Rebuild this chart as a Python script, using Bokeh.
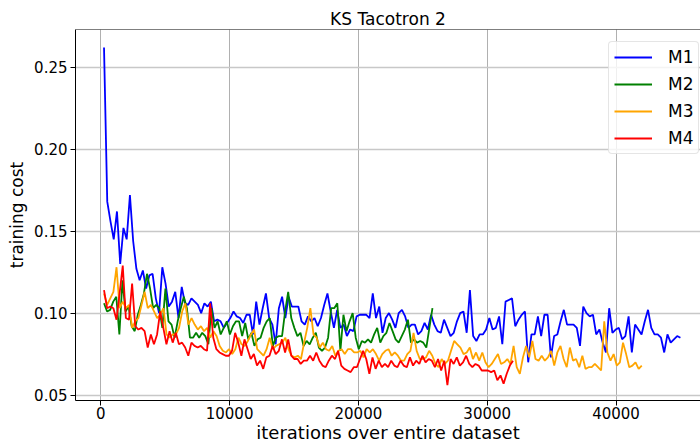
import numpy as np
from bokeh.plotting import figure
from bokeh.models import (Span, Legend, LegendItem, FixedTicker,
                          PrintfTickFormatter, Range1d)
from bokeh.embed import file_html
from bokeh.resources import INLINE

# ---------------- data ----------------
title = "KS Tacotron 2"
x_label = "iterations over entire dataset"
y_label = "training cost"
series_names = ["M1", "M2", "M3", "M4"]
series_colors = ["#0000ff", "#008000", "#ffa500", "#ff0000"]

x_ticks = [0, 10000, 20000, 30000, 40000]
y_ticks = [0.05, 0.10, 0.15, 0.20, 0.25]

# first / last iteration of each run
m1_start, m1_end = 250, 45000
m2_start, m2_end = 250, 25750
m3_start, m3_end = 250, 42000
m4_start, m4_end = 250, 32000

m1_cost = [
    0.262, 0.168, 0.156, 0.145, 0.162, 0.130, 0.152, 0.145, 0.172, 0.144,
    0.127, 0.120, 0.126, 0.115, 0.123, 0.124,
    0.109, 0.100, 0.128, 0.118, 0.104, 0.107, 0.113, 0.097, 0.116, 0.106,
    0.105, 0.109, 0.107, 0.105, 0.100, 0.106, 0.104, 0.107, 0.095, 0.096,
    0.095, 0.091, 0.094, 0.097, 0.101, 0.098, 0.097, 0.094, 0.099, 0.099,
    0.087, 0.107, 0.093, 0.103, 0.112, 0.097, 0.093, 0.081, 0.103, 0.110,
    0.097, 0.110, 0.104, 0.104, 0.104, 0.095, 0.093, 0.098, 0.095, 0.097,
    0.092, 0.097, 0.105, 0.112, 0.101, 0.091, 0.102, 0.091, 0.093, 0.086,
    0.090, 0.089, 0.098, 0.099, 0.099, 0.099, 0.097, 0.112, 0.097, 0.104,
    0.088, 0.097, 0.100, 0.096, 0.091, 0.100, 0.102, 0.098, 0.091, 0.093,
    0.093, 0.087, 0.089, 0.094, 0.090, 0.099, 0.093, 0.089, 0.088, 0.096,
    0.091, 0.086, 0.088, 0.095, 0.100, 0.101, 0.088, 0.114, 0.086, 0.083,
    0.087, 0.087, 0.090, 0.097, 0.090, 0.091, 0.098, 0.081, 0.107, 0.108,
    0.109, 0.092, 0.096, 0.099, 0.101, 0.070, 0.087, 0.087, 0.098, 0.086,
    0.099, 0.099, 0.073, 0.086, 0.087, 0.095, 0.102, 0.093, 0.093, 0.093,
    0.091, 0.080, 0.104, 0.100, 0.098, 0.099, 0.087, 0.090, 0.082, 0.076,
    0.103, 0.088, 0.090, 0.091, 0.084, 0.086, 0.098, 0.076, 0.093, 0.090,
    0.087, 0.095, 0.102, 0.091, 0.087, 0.087, 0.085, 0.076, 0.087, 0.082,
    0.084, 0.086, 0.085,
]

m2_cost = [
    0.106, 0.101, 0.102, 0.107, 0.110, 0.087, 0.120, 0.101, 0.104, 0.092,
    0.089, 0.099, 0.105, 0.112, 0.124, 0.115, 0.103, 0.105, 0.103, 0.091,
    0.115, 0.095, 0.093,
    0.085, 0.095, 0.103, 0.110, 0.103, 0.085, 0.085, 0.088, 0.085, 0.088,
    0.086, 0.081, 0.103, 0.091, 0.095, 0.087, 0.091, 0.095, 0.087, 0.092,
    0.095, 0.095, 0.086, 0.094, 0.084,
    0.088, 0.080, 0.084, 0.085, 0.091, 0.095, 0.097, 0.080, 0.085, 0.086,
    0.086, 0.101, 0.113, 0.097, 0.091, 0.086, 0.088, 0.080, 0.083, 0.081,
    0.085, 0.088, 0.079, 0.077,
    0.079, 0.085, 0.103, 0.103, 0.106, 0.077, 0.099, 0.089, 0.095, 0.100,
    0.085, 0.078, 0.083, 0.082, 0.084, 0.082, 0.087, 0.091, 0.082, 0.086,
    0.088, 0.094, 0.089, 0.084,
    0.082, 0.086, 0.090, 0.096, 0.082, 0.084, 0.082, 0.083, 0.082, 0.079,
    0.091, 0.103,
]

m3_cost = [
    0.112, 0.105, 0.109, 0.113, 0.128, 0.103, 0.107, 0.103, 0.105, 0.091,
    0.095, 0.097, 0.105, 0.113, 0.103, 0.105, 0.101, 0.097, 0.099, 0.103,
    0.087, 0.085, 0.087,
    0.087, 0.091, 0.101, 0.106, 0.093, 0.097, 0.093, 0.090, 0.092, 0.089,
    0.091, 0.085, 0.089, 0.086, 0.080, 0.077, 0.076, 0.078, 0.075, 0.078,
    0.085, 0.081, 0.080, 0.083, 0.087,
    0.090, 0.078, 0.076, 0.074, 0.078, 0.085, 0.078, 0.080, 0.081, 0.082,
    0.085, 0.078, 0.074, 0.073, 0.074, 0.072, 0.082, 0.091, 0.103, 0.087,
    0.085, 0.079, 0.082, 0.078,
    0.077, 0.080, 0.074, 0.077, 0.078, 0.075, 0.078, 0.078, 0.076, 0.076,
    0.077, 0.073, 0.078, 0.076, 0.078, 0.075, 0.071, 0.075, 0.077, 0.078,
    0.074, 0.076, 0.074, 0.071,
    0.071, 0.075, 0.077, 0.088, 0.077, 0.072, 0.072, 0.073, 0.077, 0.074,
    0.069, 0.067, 0.072, 0.069, 0.071, 0.077, 0.083, 0.081, 0.079, 0.075,
    0.076, 0.079, 0.072,
    0.076, 0.071, 0.076, 0.070, 0.067, 0.069, 0.072, 0.075, 0.069, 0.070,
    0.072, 0.069, 0.080, 0.067, 0.063, 0.073, 0.080, 0.073, 0.083, 0.072,
    0.071, 0.074, 0.071, 0.073, 0.077,
    0.068, 0.076, 0.080, 0.072, 0.067, 0.079, 0.071, 0.072, 0.067, 0.074,
    0.066, 0.067, 0.067, 0.069, 0.067, 0.065, 0.095, 0.076, 0.071, 0.075,
    0.068, 0.070, 0.082,
    0.075, 0.067, 0.068, 0.070, 0.066, 0.068,
]

m4_cost = [
    0.114, 0.103, 0.104, 0.103, 0.096, 0.112, 0.129, 0.097, 0.096, 0.118,
    0.092, 0.090, 0.091, 0.089, 0.079, 0.087, 0.081, 0.087, 0.101, 0.091,
    0.081, 0.089, 0.082,
    0.088, 0.081, 0.082, 0.079, 0.074, 0.082, 0.080, 0.079, 0.080, 0.078,
    0.077, 0.106, 0.085, 0.078, 0.076, 0.075, 0.074, 0.074, 0.077, 0.088,
    0.082, 0.074, 0.084, 0.078,
    0.072, 0.075, 0.068, 0.071, 0.066, 0.073, 0.074, 0.080, 0.075, 0.077,
    0.084, 0.076, 0.084, 0.074, 0.072, 0.072, 0.069, 0.071, 0.071, 0.074,
    0.071, 0.076, 0.071, 0.068,
    0.067, 0.071, 0.074, 0.072, 0.077, 0.068, 0.066, 0.065, 0.064, 0.067,
    0.067, 0.072, 0.077, 0.072, 0.063, 0.073, 0.066, 0.071, 0.067, 0.069,
    0.067, 0.071, 0.068, 0.067,
    0.071, 0.068, 0.067, 0.073, 0.068, 0.071, 0.069, 0.074, 0.070, 0.072,
    0.071, 0.067, 0.072, 0.065, 0.071, 0.056, 0.072, 0.069, 0.073, 0.068,
    0.070, 0.074, 0.069, 0.067, 0.069,
    0.068, 0.065, 0.065, 0.065, 0.064, 0.065, 0.059, 0.062, 0.057, 0.063,
    0.068, 0.071,
]

series = [
    (m1_start, m1_end, m1_cost),
    (m2_start, m2_end, m2_cost),
    (m3_start, m3_end, m3_cost),
    (m4_start, m4_end, m4_cost),
]

# ---------------- figure ----------------
X0, X1 = -1964, 46560
Y0, Y1 = 0.0467, 0.2730
FONT = "DejaVu Sans"

p = figure(width=700, height=445, output_backend="svg", toolbar_location=None,
           x_range=Range1d(X0, X1), y_range=Range1d(Y0, Y1),
           min_border_left=75, min_border_right=0,
           min_border_top=29, min_border_bottom=45)

p.title.text = title
p.title.align = "center"
p.title.text_font = FONT
p.title.text_font_size = "17px"
p.title.text_font_style = "normal"
p.title.text_color = "black"
p.title.standoff = 2

p.outline_line_color = None
p.background_fill_color = "white"
p.border_fill_color = "white"

p.xgrid.grid_line_color = "#b0b0b0"
p.xgrid.grid_line_width = 1
p.ygrid.grid_line_color = "#c8c8c8"
p.ygrid.grid_line_width = 1.5

p.xaxis.ticker = FixedTicker(ticks=x_ticks)
p.yaxis.ticker = FixedTicker(ticks=y_ticks)
p.xaxis.formatter = PrintfTickFormatter(format="%d")
p.yaxis.formatter = PrintfTickFormatter(format="%.2f")
p.xaxis.axis_label = x_label
p.yaxis.axis_label = y_label

for ax in (p.xaxis, p.yaxis):
    ax.axis_line_color = "black"
    ax.axis_line_width = 1
    ax.major_tick_line_color = "black"
    ax.major_tick_out = 5
    ax.major_tick_in = 0
    ax.minor_tick_line_color = None
    ax.major_label_text_font = FONT
    ax.major_label_text_font_size = "15px"
    ax.major_label_text_color = "black"
    ax.axis_label_text_font = FONT
    ax.axis_label_text_font_style = "normal"
    ax.axis_label_text_color = "black"
p.xaxis.major_label_standoff = 1
p.yaxis.major_label_standoff = 3
p.xaxis.axis_label_text_font_size = "18px"
p.yaxis.axis_label_text_font_size = "17px"
p.xaxis.axis_label_standoff = 0
p.yaxis.axis_label_standoff = 4

p.add_layout(Span(location=Y1, dimension="width", line_color="black",
                  line_width=1))

items = []
for (start, end, cost), name, color in zip(series, series_names, series_colors):
    xs = np.linspace(start, end, len(cost))
    r = p.line(xs, cost, line_color=color, line_width=1.8)
    items.append(LegendItem(label=name, renderers=[r]))

legend = Legend(items=items, location=(533, 246))
legend.label_text_font = FONT
legend.label_text_font_size = "17px"
legend.label_text_color = "black"
legend.border_line_color = "#cccccc"
legend.border_line_width = 1
legend.background_fill_color = "white"
legend.background_fill_alpha = 0.8
legend.padding = 5
legend.spacing = 7
legend.margin = 0
legend.glyph_width = 38
legend.glyph_height = 20
legend.label_height = 20
legend.label_standoff = 16
try:
    legend.border_radius = 4
except Exception:
    pass
p.add_layout(legend)

open("out.html", "w").write(file_html(p, INLINE))
